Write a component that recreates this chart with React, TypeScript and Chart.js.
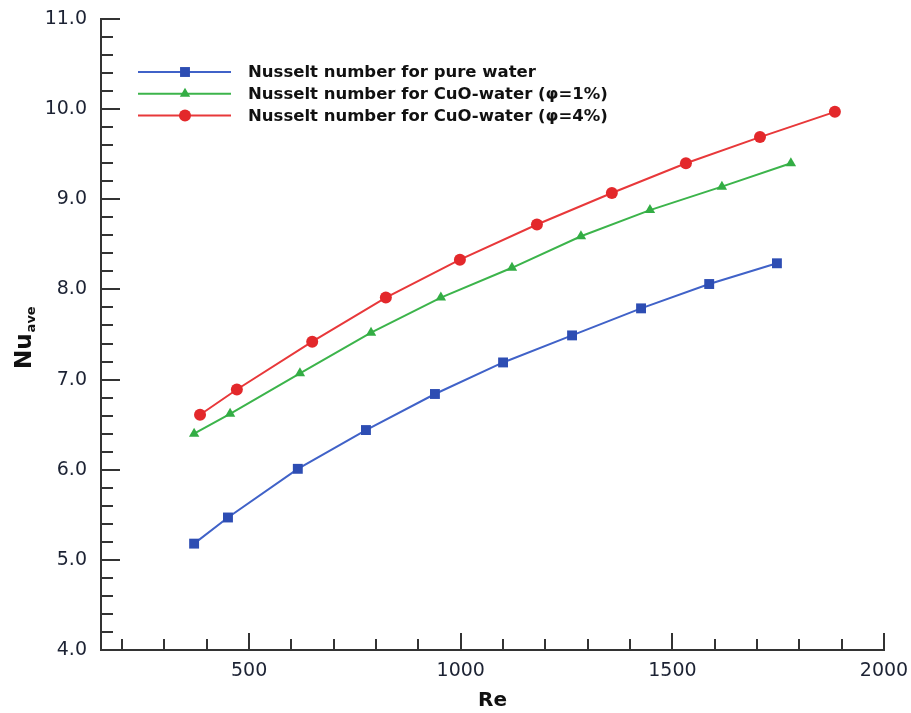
import React, { useEffect, useRef } from 'react';
import { Chart, registerables } from 'chart.js';

Chart.register(...registerables);

// ---- Data ----
const seriesLabels = [
  'Nusselt number for pure water',
  'Nusselt number for CuO-water (φ=1%)',
  'Nusselt number for CuO-water (φ=4%)',
];

const reWater = [370, 450, 615, 776, 939, 1100, 1263, 1426, 1587, 1747];
const nuWater = [5.18, 5.47, 6.01, 6.44, 6.84, 7.19, 7.49, 7.79, 8.06, 8.29];

const reCuo1 = [370, 455, 620, 788, 953, 1121, 1284, 1447, 1617, 1780];
const nuCuo1 = [6.4, 6.62, 7.07, 7.52, 7.91, 8.24, 8.59, 8.88, 9.14, 9.4];

const reCuo4 = [384, 471, 649, 823, 998, 1180, 1357, 1532, 1707, 1884];
const nuCuo4 = [6.61, 6.89, 7.42, 7.91, 8.33, 8.72, 9.07, 9.4, 9.69, 9.97];

const xTickValues = [500, 1000, 1500, 2000];
const X_MIN = 150;
const X_MAX = 2000;
const Y_MIN = 4;
const Y_MAX = 11;
const X_MINOR_STEP = 100;
const X_MAJOR_EVERY = 5;
const Y_MINOR_STEP = 0.2;
const Y_MAJOR_EVERY = 5;

const lineColors = ['#4062c8', '#3cb44b', '#e8383a'];
const markerColors = ['#2d4db3', '#33ad44', '#e3282b'];
const markerStyles = ['rect', 'triangle', 'circle'];
const markerRadii = [7, 6, 6];

const AXIS_COLOR = '#333';
const FONT = "'DejaVu Sans', sans-serif";

function drawMarker(ctx: CanvasRenderingContext2D, style: string, x: number, y: number, r: number, color: string) {
  ctx.fillStyle = color;
  ctx.beginPath();
  if (style === 'rect') {
    const s = r * Math.SQRT1_2;
    ctx.rect(x - s, y - s, 2 * s, 2 * s);
  } else if (style === 'triangle') {
    ctx.moveTo(x, y - r);
    ctx.lineTo(x + Math.sin((2 * Math.PI) / 3) * r, y + 0.5 * r);
    ctx.lineTo(x - Math.sin((2 * Math.PI) / 3) * r, y + 0.5 * r);
    ctx.closePath();
  } else {
    ctx.arc(x, y, r, 0, Math.PI * 2);
  }
  ctx.fill();
}

const inwardTicksPlugin = {
  id: 'inwardTicks',
  beforeDatasetsDraw(chart: any) {
    const { ctx, chartArea, scales } = chart;
    const xs = scales.x;
    const ys = scales.y;
    ctx.save();
    ctx.strokeStyle = AXIS_COLOR;
    ctx.lineWidth = 2;
    const kx0 = Math.ceil(X_MIN / X_MINOR_STEP);
    const kx1 = Math.round(X_MAX / X_MINOR_STEP);
    for (let k = kx0; k <= kx1; k++) {
      const px = Math.round(xs.getPixelForValue(k * X_MINOR_STEP));
      const len = k % X_MAJOR_EVERY === 0 ? 17 : 11;
      ctx.beginPath();
      ctx.moveTo(px, chartArea.bottom);
      ctx.lineTo(px, chartArea.bottom - len);
      ctx.stroke();
    }
    const ky0 = Math.round(Y_MIN / Y_MINOR_STEP) + 1;
    const ky1 = Math.round(Y_MAX / Y_MINOR_STEP);
    for (let k = ky0; k <= ky1; k++) {
      const py = Math.round(ys.getPixelForValue(k * Y_MINOR_STEP));
      const len = k % Y_MAJOR_EVERY === 0 ? 19 : 12;
      ctx.beginPath();
      ctx.moveTo(chartArea.left, py);
      ctx.lineTo(chartArea.left + len, py);
      ctx.stroke();
    }
    ctx.restore();
  },
};

const yTitlePlugin = {
  id: 'yTitle',
  afterDraw(chart: any) {
    const { ctx } = chart;
    ctx.save();
    ctx.translate(31, 369);
    ctx.rotate(-Math.PI / 2);
    ctx.fillStyle = '#111';
    ctx.textAlign = 'left';
    ctx.textBaseline = 'alphabetic';
    ctx.font = `bold 23px ${FONT}`;
    ctx.fillText('Nu', 0, 0);
    const w = ctx.measureText('Nu').width;
    ctx.font = `bold 13px ${FONT}`;
    ctx.fillText('ave', w + 1, 4);
    ctx.restore();
  },
};

const legendPlugin = {
  id: 'insideLegend',
  afterDraw(chart: any) {
    const { ctx } = chart;
    ctx.save();
    chart.data.datasets.forEach((ds: any, i: number) => {
      const y = 72 + i * 21.75;
      ctx.strokeStyle = lineColors[i];
      ctx.lineWidth = 2;
      ctx.beginPath();
      ctx.moveTo(138, y);
      ctx.lineTo(231, y);
      ctx.stroke();
      drawMarker(ctx, markerStyles[i], 185, y, markerRadii[i], markerColors[i]);
      ctx.fillStyle = '#111';
      ctx.font = `bold 16.5px ${FONT}`;
      ctx.textAlign = 'left';
      ctx.textBaseline = 'middle';
      ctx.fillText(ds.label, 248, y + 1);
    });
    ctx.restore();
  },
};

export default function App() {
  const canvasRef = useRef<HTMLCanvasElement | null>(null);

  useEffect(() => {
    const canvas = canvasRef.current;
    if (!canvas) return;
    const series = [
      [reWater, nuWater],
      [reCuo1, nuCuo1],
      [reCuo4, nuCuo4],
    ];
    const chart = new Chart(canvas, {
      type: 'line',
      data: {
        datasets: series.map(([xs, ys], i) => ({
          label: seriesLabels[i],
          data: xs.map((x, j) => ({ x, y: ys[j] })),
          borderColor: lineColors[i],
          backgroundColor: markerColors[i],
          pointBackgroundColor: markerColors[i],
          pointBorderColor: markerColors[i],
          pointBorderWidth: 0,
          pointStyle: markerStyles[i] as any,
          pointRadius: markerRadii[i],
          borderWidth: 2,
          tension: 0,
          fill: false,
        })),
      },
      options: {
        responsive: false,
        maintainAspectRatio: false,
        animation: false,
        layout: { padding: { left: 0, top: 19, right: 27, bottom: 0 } },
        plugins: {
          legend: { display: false },
          tooltip: { enabled: false },
        },
        scales: {
          x: {
            type: 'linear',
            min: X_MIN,
            max: X_MAX,
            afterBuildTicks: (s: any) => {
              s.ticks = xTickValues.map((v) => ({ value: v }));
            },
            afterFit: (s: any) => {
              s.height = 63;
              s.paddingLeft = 0;
              s.paddingRight = 0;
            },
            grid: { display: false, drawTicks: false },
            border: { display: true, color: AXIS_COLOR, width: 2 },
            ticks: {
              padding: 10,
              autoSkip: false,
              maxRotation: 0,
              color: '#1c2233',
              font: { family: FONT, size: 19 },
              callback: (v: any) => String(v),
            },
            title: {
              display: true,
              text: 'Re',
              color: '#111',
              font: { family: FONT, size: 20, weight: 'bold' },
              padding: { top: 0, bottom: 0 },
            },
          },
          y: {
            type: 'linear',
            min: Y_MIN,
            max: Y_MAX,
            afterFit: (s: any) => {
              s.width = 101;
              s.paddingTop = 0;
              s.paddingBottom = 0;
            },
            grid: { display: false, drawTicks: false },
            border: { display: true, color: AXIS_COLOR, width: 2 },
            ticks: {
              stepSize: 1,
              padding: 14,
              color: '#1c2233',
              font: { family: FONT, size: 19 },
              callback: (v: any) => Number(v).toFixed(1),
            },
          },
        },
      },
      plugins: [inwardTicksPlugin, yTitlePlugin, legendPlugin],
    });
    return () => chart.destroy();
  }, []);

  return (
    <div style={{ position: 'absolute', left: 0, top: 0, width: 911, height: 713, background: '#fff' }}>
      <canvas ref={canvasRef} width={911} height={713} style={{ display: 'block' }} />
    </div>
  );
}
